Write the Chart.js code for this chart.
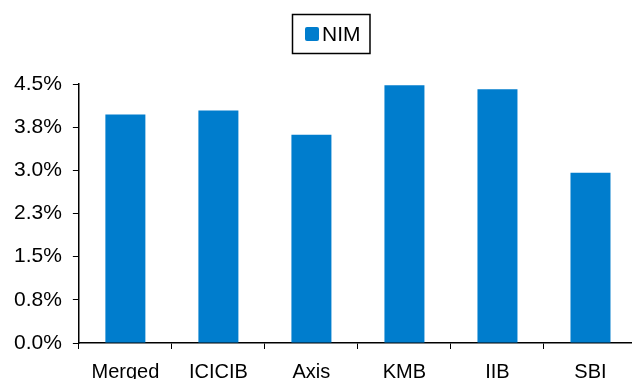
<!DOCTYPE html>
<html>
<head>
<meta charset="utf-8">
<script src="https://cdn.jsdelivr.net/npm/chart.js@4"></script>
<style>
    html, body { margin: 0; padding: 0; overflow: hidden; background: #fff; }
    #wrap { position: relative; width: 640px; height: 395px; }
</style>
</head>
<body>
<div id="wrap"><canvas id="nimChart"></canvas></div>
<script>
const banks = ["Merged", "ICICIB", "Axis", "KMB", "IIB", "SBI"];
const nim = [3.97, 4.04, 3.62, 4.48, 4.41, 2.96];
const yTicks = [0, 0.75, 1.5, 2.25, 3, 3.75, 4.5];

const BLUE = "#007DCD";
const FONT = "'Liberation Sans', Arial, sans-serif";

// boxed legend like the excel original
const boxedLegend = {
    id: "boxedLegend",
    afterDraw(chart) {
        const ctx = chart.ctx;
        const ds = chart.data.datasets[0];
        ctx.save();
        ctx.font = "21px " + FONT;
        const tw = ctx.measureText(ds.label).width;
        const sq = 14, gap = 3, pad = 13;
        const w = pad + sq + gap + tw + pad - 4;
        const h = 39;
        const cx = 331, top = 14;
        const left = Math.round(cx - w / 2);
        ctx.strokeStyle = "#000";
        ctx.lineWidth = 1.5;
        ctx.strokeRect(left + 0.5, top + 0.5, w, h);
        ctx.fillStyle = ds.backgroundColor;
        ctx.beginPath();
        ctx.roundRect(left + pad, top + 13, sq, sq, 2);
        ctx.fill();
        ctx.fillStyle = "#000";
        ctx.textBaseline = "middle";
        ctx.fillText(ds.label, left + pad + sq + gap, top + 21);
        ctx.restore();
    },
};

const ctx = document.getElementById("nimChart");

new Chart(ctx, {
    type: "bar",
    data: {
        labels: banks,
        datasets: [
            {
                label: "NIM",
                data: nim,
                backgroundColor: BLUE,
                barPercentage: 0.43,
                categoryPercentage: 1,
            },
        ],
    },
    options: {
        responsive: true,
        maintainAspectRatio: false,
        animation: false,
        layout: {
            padding: { top: 84, left: 3, right: 3, bottom: 0 },
        },
        scales: {
            x: {
                grid: {
                    display: true,
                    drawOnChartArea: false,
                    drawTicks: true,
                    tickLength: 6,
                    color: "#000",
                    offset: true,
                },
                border: { color: "#000", width: 1.5 },
                ticks: {
                    color: "#000",
                    padding: 11,
                    font: { family: FONT, size: 20 },
                    maxRotation: 0,
                },
            },
            y: {
                min: 0,
                max: 4.5,
                afterBuildTicks(axis) {
                    axis.ticks = yTicks.map((v) => ({ value: v }));
                },
                grid: {
                    display: true,
                    drawOnChartArea: false,
                    drawTicks: true,
                    tickLength: 6,
                    color: "#000",
                },
                border: { color: "#000", width: 1.5 },
                ticks: {
                    color: "#000",
                    padding: 11,
                    font: { family: FONT, size: 21 },
                    callback: (v) => v.toFixed(1) + "%",
                },
            },
        },
        plugins: {
            legend: { display: false },
            tooltip: { enabled: false },
        },
    },
    plugins: [boxedLegend],
});
</script>
</body>
</html>
